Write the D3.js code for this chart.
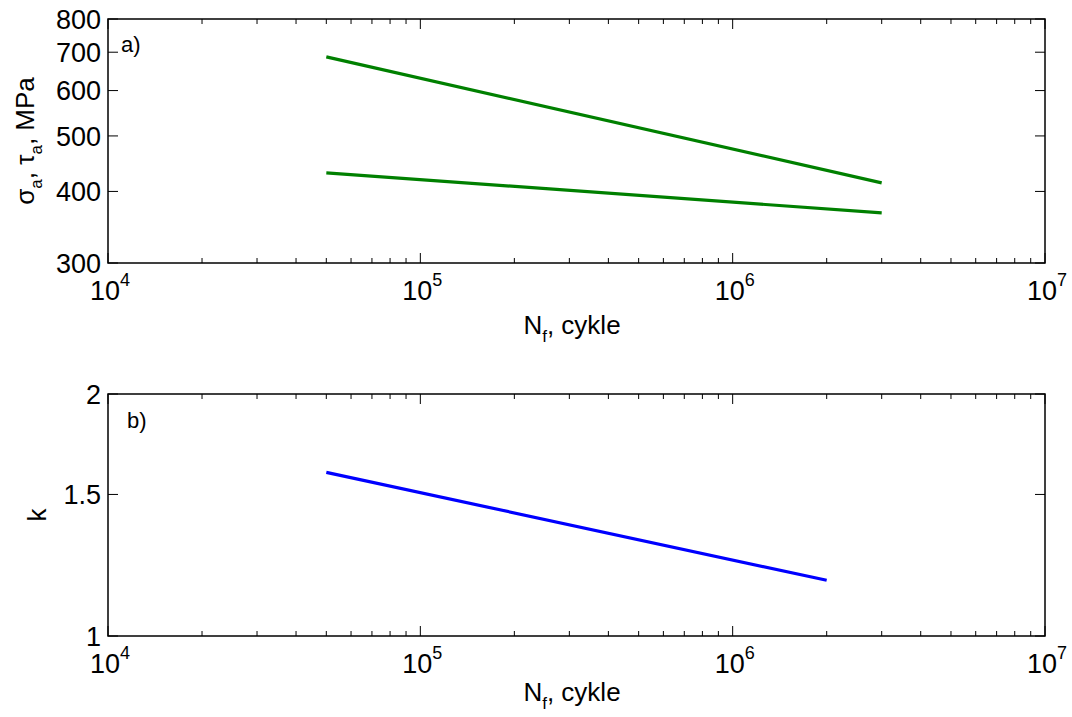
<!DOCTYPE html>
<html>
<head>
<meta charset="utf-8">
<script src="https://cdn.jsdelivr.net/npm/d3@7"></script>
<style>
  html, body { margin: 0; padding: 0; background: #fff; }
  svg text { font-family: "Liberation Sans", Arial, Helvetica, sans-serif; fill: #000; }
</style>
</head>
<body>
<svg id="chart" width="1072" height="717"></svg>
<script>
// ---- data ----
const cyclesA = [5e4, 3e6];
const sigmaA = [687, 414];     // upper green line (MPa)
const tauA = [431, 367];       // lower green line (MPa)
const cyclesB = [5e4, 2e6];
const kValues = [1.598, 1.173];

const xMajorTicks = [1e4, 1e5, 1e6, 1e7];
const xTickExponents = ["4", "5", "6", "7"];
const yTicksA = [300, 400, 500, 600, 700, 800];
const yTicksB = [1, 1.5, 2];
const yTickLabelsB = ["1", "1.5", "2"];

const svg = d3.select("#chart");
const left = 108, right = 1045;

function drawPanel(cfg) {
  const g = svg.append("g");
  const x = d3.scaleLog().domain([1e4, 1e7]).range([left, right]);
  const y = d3.scaleLog().domain(cfg.yDomain).range([cfg.bottom, cfg.top]);

  const minors = [];
  for (let e = 4; e < 7; e++) for (let m = 2; m <= 9; m++) minors.push(m * Math.pow(10, e));

  const tickG = g.append("g").attr("stroke", "#000").attr("stroke-width", 1);
  minors.forEach(v => {
    tickG.append("line").attr("x1", x(v)).attr("x2", x(v)).attr("y1", cfg.bottom).attr("y2", cfg.bottom - 5);
    tickG.append("line").attr("x1", x(v)).attr("x2", x(v)).attr("y1", cfg.top).attr("y2", cfg.top + 5);
  });
  xMajorTicks.forEach(v => {
    tickG.append("line").attr("x1", x(v)).attr("x2", x(v)).attr("y1", cfg.bottom).attr("y2", cfg.bottom - 10);
    tickG.append("line").attr("x1", x(v)).attr("x2", x(v)).attr("y1", cfg.top).attr("y2", cfg.top + 10);
  });
  cfg.yTicks.forEach(v => {
    tickG.append("line").attr("x1", left).attr("x2", left + 10).attr("y1", y(v)).attr("y2", y(v));
    tickG.append("line").attr("x1", right).attr("x2", right - 10).attr("y1", y(v)).attr("y2", y(v));
  });

  g.append("rect").attr("x", left).attr("y", cfg.top)
    .attr("width", right - left).attr("height", cfg.bottom - cfg.top)
    .attr("fill", "none").attr("stroke", "#000").attr("stroke-width", 1.5);

  xMajorTicks.forEach((v, i) => {
    const t = g.append("text").attr("x", x(v) + 2).attr("y", cfg.bottom + 37)
      .attr("text-anchor", "middle").attr("font-size", 27);
    t.append("tspan").text("10");
    t.append("tspan").attr("font-size", 18).attr("dy", -14).text(xTickExponents[i]);
  });

  cfg.yTicks.forEach((v, i) => {
    g.append("text").attr("x", 101).attr("y", y(v)).attr("dy", "0.36em")
      .attr("text-anchor", "end").attr("font-size", 27).text(cfg.yLabels[i]);
  });

  const xt = g.append("text").attr("x", 572).attr("y", cfg.xTitleY)
    .attr("text-anchor", "middle").attr("font-size", 26);
  xt.append("tspan").text("N");
  xt.append("tspan").attr("font-size", 17).attr("dy", 8).text("f");
  xt.append("tspan").attr("dy", -8).text(", cykle");

  g.append("text").attr("x", cfg.tagX).attr("y", cfg.tagY).attr("font-size", 22).text(cfg.tag);

  const line = d3.line().x(d => x(d[0])).y(d => y(d[1]));
  cfg.series.forEach(s => {
    g.append("path").datum(s.xs.map((c, i) => [c, s.ys[i]]))
      .attr("d", line).attr("fill", "none").attr("stroke", s.color)
      .attr("stroke-width", 3.2).attr("stroke-linecap", "butt");
  });
  return g;
}

const gA = drawPanel({
  top: 19, bottom: 263, yDomain: [300, 800],
  yTicks: yTicksA, yLabels: yTicksA.map(String),
  xTitleY: 334, tag: "a)", tagX: 121, tagY: 52,
  series: [
    { xs: cyclesA, ys: sigmaA, color: "#008000" },
    { xs: cyclesA, ys: tauA, color: "#008000" }
  ]
});
const ya = gA.append("text").attr("transform", "translate(34,141) rotate(-90)")
  .attr("text-anchor", "middle").attr("font-size", 26);
ya.append("tspan").text("σ");
ya.append("tspan").attr("font-size", 17).attr("dy", 8).text("a");
ya.append("tspan").attr("dy", -8).text(", τ");
ya.append("tspan").attr("font-size", 17).attr("dy", 8).text("a");
ya.append("tspan").attr("dy", -8).text(", MPa");

const gB = drawPanel({
  top: 394, bottom: 636, yDomain: [1, 2],
  yTicks: yTicksB, yLabels: yTickLabelsB,
  xTitleY: 701, tag: "b)", tagX: 127, tagY: 428,
  series: [
    { xs: cyclesB, ys: kValues, color: "#0000ff" }
  ]
});
gB.append("text").attr("transform", "translate(46,515) rotate(-90)")
  .attr("text-anchor", "middle").attr("font-size", 26).text("k");
</script>
</body>
</html>
